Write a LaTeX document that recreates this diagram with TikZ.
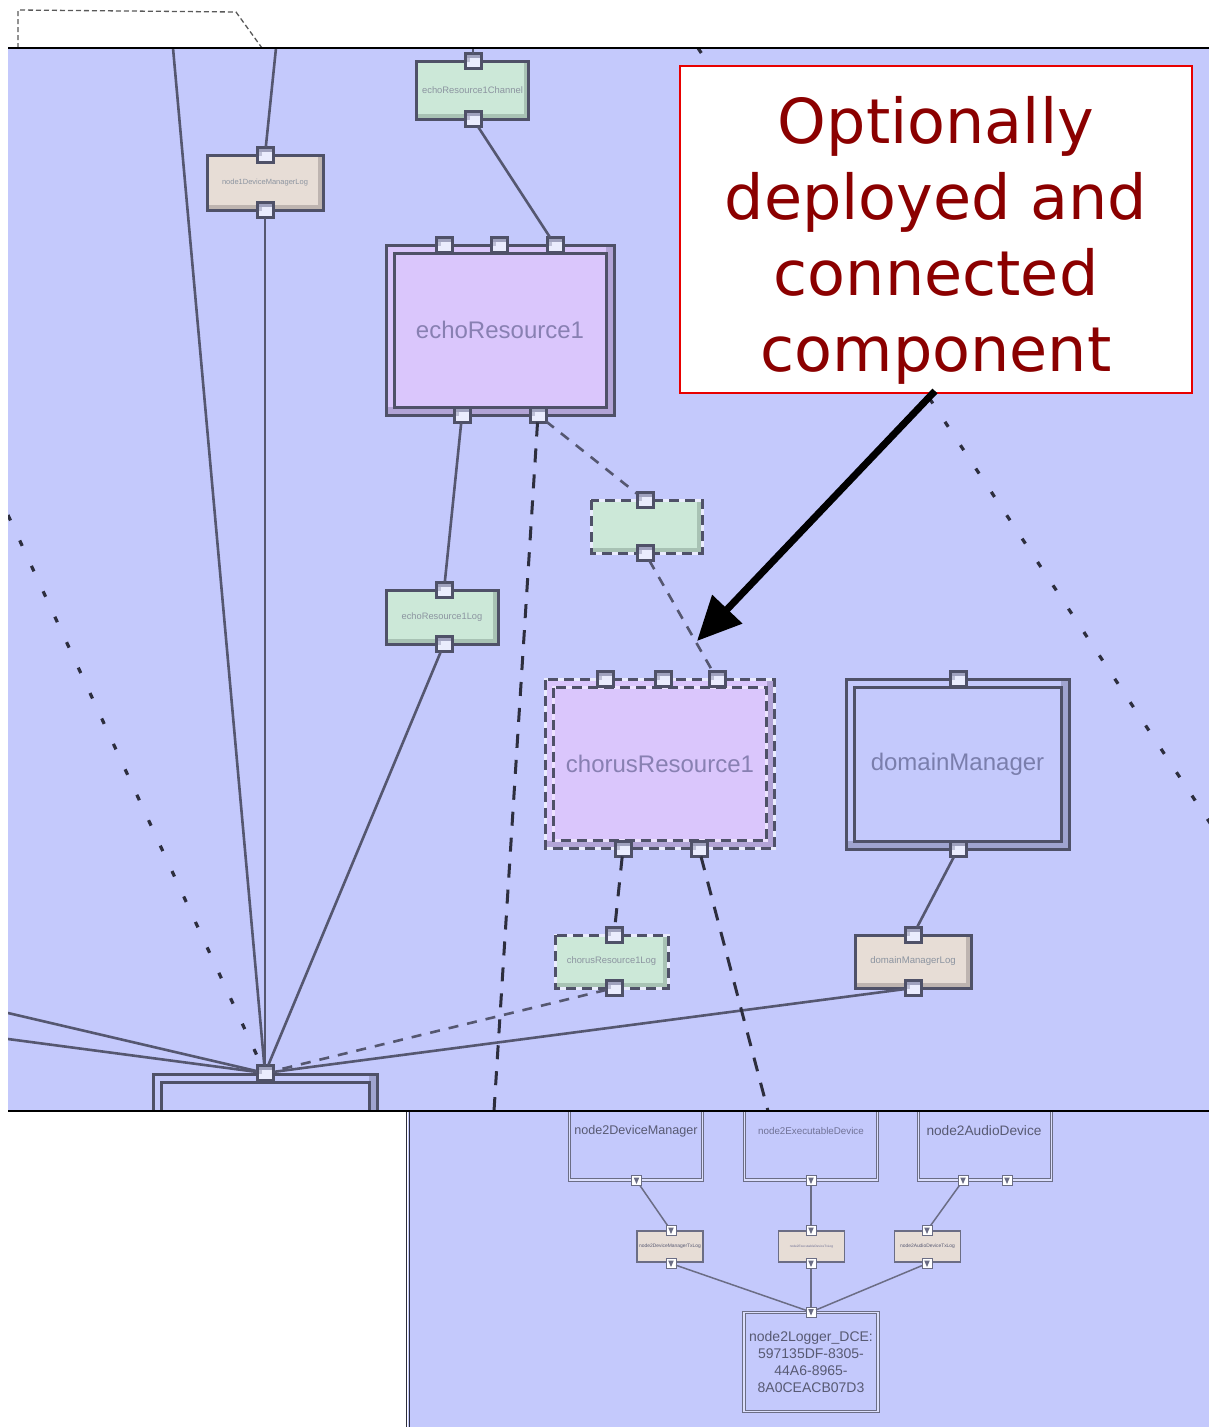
\documentclass[tikz,border=0pt]{standalone}
\usepackage{fontspec}
\setmainfont{Liberation Sans}
\newfontfamily\callfont{DejaVu Sans}
\usetikzlibrary{arrows.meta}

\definecolor{bgblue}{RGB}{196,201,252}
\definecolor{bd}{RGB}{79,81,104}
\definecolor{lav}{RGB}{218,198,252}
\definecolor{lavS}{RGB}{178,164,214}
\definecolor{grn}{RGB}{204,232,216}
\definecolor{grnS}{RGB}{168,194,180}
\definecolor{bge}{RGB}{231,221,214}
\definecolor{bgeS}{RGB}{190,180,176}
\definecolor{blS}{RGB}{160,164,208}
\definecolor{portF}{RGB}{234,236,253}
\definecolor{portS}{RGB}{160,162,190}
\definecolor{cmptxt}{RGB}{136,128,178}
\definecolor{dmtxt}{RGB}{122,126,172}
\definecolor{smalltxt}{RGB}{140,148,160}
\definecolor{cline}{RGB}{85,87,112}
\definecolor{dline}{RGB}{45,46,62}
\definecolor{lowbd}{RGB}{107,109,133}
\definecolor{lowtxt}{RGB}{88,90,115}
\definecolor{lowtxtl}{RGB}{112,114,150}
\definecolor{calred}{RGB}{232,0,0}
\definecolor{caltxt}{RGB}{139,0,0}

\tikzset{
  every node/.style={inner sep=0pt, outer sep=0pt},
  sbox/.style 2 args={rectangle, draw=bd, line width=3pt, fill=#1,
     path picture={
       \fill[#2] ([yshift=5pt]path picture bounding box.south west) rectangle (path picture bounding box.south east);
       \fill[#2] ([xshift=-5pt]path picture bounding box.south east) rectangle (path picture bounding box.north east);}},
  dbox/.style n args={3}{rectangle, draw=bd, line width=3pt, fill=#1,
     path picture={
       \fill[#2] ([yshift=8pt]path picture bounding box.south west) rectangle (path picture bounding box.south east);
       \fill[#2] ([xshift=-8pt]path picture bounding box.south east) rectangle (path picture bounding box.north east);
       \filldraw[fill=#1, draw=bd, line width=3pt, #3] ([xshift=8pt,yshift=-8pt]path picture bounding box.north west) rectangle ([xshift=-8pt,yshift=8pt]path picture bounding box.south east);}},
  dashover/.style={draw=bd, line width=3pt, dash pattern=on 10pt off 6pt},
  port/.style={rectangle, draw=bd, line width=3pt, fill=portF, minimum width=16pt, minimum height=15pt,
     path picture={
       \fill[portS] (path picture bounding box.north west) rectangle ([yshift=-4pt]path picture bounding box.north east);
       \fill[portS!60!portF] ([yshift=-4pt]path picture bounding box.north west) rectangle ([xshift=5pt,yshift=-8pt]path picture bounding box.north west);}},
  cmpfont/.style={font=\fontsize{24}{28}\selectfont, text=cmptxt},
  tiny/.style={font=\fontsize{#1}{#1}\selectfont, text=smalltxt},
  cl/.style={draw=cline, line width=2.6pt},
  dl/.style={draw=dline, line width=3pt, dash pattern=on 14pt off 12pt},
  ml/.style={draw=cline, line width=2.6pt, dash pattern=on 10pt off 9pt},
  dt/.style={draw=dline, line width=3.2pt, dash pattern=on 6pt off 22pt},
  lbox/.style={rectangle, draw=lowbd, line width=1.2pt, double=bgblue!60!white, double distance=1.5pt, fill=bgblue},
  lport/.style={rectangle, draw=lowbd, line width=1pt, fill=white, minimum size=10pt,
     path picture={\fill[lowbd] ([xshift=2.2pt,yshift=-2pt]path picture bounding box.north west) -- ([xshift=-2.2pt,yshift=-2pt]path picture bounding box.north east) -- ([yshift=1.5pt]path picture bounding box.south) -- cycle;}},
  llog/.style={rectangle, draw=lowbd, line width=1.5pt, fill=bge, minimum width=66pt, minimum height=31pt},
  lline/.style={draw=lowbd, line width=1.5pt},
  callbox/.style={rectangle, draw=calred, line width=2pt, fill=white, minimum width=512pt, minimum height=327pt},
  calltext/.style={font=\callfont\fontsize{62}{70}\selectfont, text=caltxt, anchor=base},
}

\begin{document}
\begin{tikzpicture}[x=1pt,y=-1pt]
\useasboundingbox (0,0) rectangle (1209,1427);
\fill[white] (0,0) rectangle (1209,1427);

% dashed outline above the first panel
\draw[gray!70!black, line width=1.3pt, dash pattern=on 5pt off 3pt] (18,48) -- (18,10) -- (236,12) -- (262,48);

% ================= upper panel =================
\fill[bgblue] (8,48) rectangle (1209,1111);
\begin{scope}
\clip (8,48) rectangle (1209,1111);

% boxes
\node[sbox={grn}{grnS}, minimum width=112pt, minimum height=58pt, tiny=9.4] (tg) at (472.5,90) {echoResource1Channel};
\node[sbox={bge}{bgeS}, minimum width=116pt, minimum height=55pt, tiny=7.5] (b1) at (265,182.5) {node1DeviceManagerLog};
\node[dbox={lav}{lavS}{}, minimum width=228pt, minimum height=170pt, cmpfont] (echo) at (500,330) {echoResource1};
\node[sbox={grn}{grnS}, minimum width=112pt, minimum height=54pt, tiny=9.3] (g2) at (442,617) {echoResource1Log};
\node[sbox={grn}{grnS}, draw=portF, minimum width=111pt, minimum height=53pt] (g3) at (646.5,526.5) {};
\draw[dashover] (g3.north west) rectangle (g3.south east);
\node[dbox={lav}{lavS}{draw=lav!50!white}, draw=portF, minimum width=229pt, minimum height=169pt, cmpfont] (chorus) at (660,764) {chorusResource1};
\draw[dashover] (chorus.north west) rectangle (chorus.south east);
\draw[dashover] ([shift={(8pt,-8pt)}]chorus.north west) rectangle ([shift={(-8pt,8pt)}]chorus.south east);
\node[dbox={bgblue}{blS}{}, minimum width=223pt, minimum height=170pt, font=\fontsize{24}{28}\selectfont, text=dmtxt] (dm) at (957.5,764) {domainManager};
\node[sbox={grn}{grnS}, draw=portF, minimum width=113pt, minimum height=53pt, tiny=9.4] (g4) at (611.5,961.5) {chorusResource1Log};
\draw[dashover] (g4.north west) rectangle (g4.south east);
\node[sbox={bge}{bgeS}, minimum width=116pt, minimum height=53pt, tiny=9.6] (b5) at (913,961.5) {domainManagerLog};
\node[dbox={bgblue}{blS}{}, minimum width=224pt, minimum height=200pt] (big) at (265,1174) {};

% ports
\node[port] (tg_t) at (473,61) {};
\node[port] (tg_b) at (473,119) {};
\node[port] (b1_t) at (265,155) {};
\node[port] (b1_b) at (265,210) {};
\node[port] (e_t1) at (444,245) {};
\node[port] (e_t2) at (499,245) {};
\node[port] (e_t3) at (555,245) {};
\node[port] (e_b1) at (462,415) {};
\node[port] (e_b2) at (538,415) {};
\node[port] (g2_t) at (444,590) {};
\node[port] (g2_b) at (444,644) {};
\node[port] (g3_t) at (645,500) {};
\node[port] (g3_b) at (645,553) {};
\node[port] (c_t1) at (605,679) {};
\node[port] (c_t2) at (663,679) {};
\node[port] (c_t3) at (717,679) {};
\node[port] (c_b1) at (623,849) {};
\node[port] (c_b2) at (699,849) {};
\node[port] (d_t) at (958,679) {};
\node[port] (d_b) at (958,849) {};
\node[port] (g4_t) at (614,935) {};
\node[port] (g4_b) at (614,988) {};
\node[port] (b5_t) at (913,935) {};
\node[port] (b5_b) at (913,988) {};
\node[port] (bigp) at (265,1073) {};

% free ends
\coordinate (top1) at (173,48);
\coordinate (top2) at (276,48);
\coordinate (top3) at (473,48);
\coordinate (topdot) at (698,48);
\coordinate (rdot) at (1212,826);
\coordinate (ldot) at (8,515);
\coordinate (lsol1) at (8,1013);
\coordinate (lsol2) at (8,1039);
\coordinate (down1) at (494,1111);
\coordinate (down2) at (768,1111);

% connectors
\draw[cl] (top1) -- (bigp);
\draw[cl] (top2) -- (b1_t);
\draw[cl] (b1_b) -- (bigp);
\draw[cl] (top3) -- (tg_t);
\draw[cl] (tg_b) -- (e_t3);
\draw[cl] (e_b1) -- (g2_t);
\draw[cl] (g2_b) -- (bigp);
\draw[cl] (d_b) -- (b5_t);
\draw[cl] (b5_b) -- (bigp);
\draw[cl] (lsol1) -- (bigp);
\draw[cl] (lsol2) -- (bigp);
\draw[dl] (e_b2) -- (down1);
\draw[ml] (e_b2) -- (g3_t);
\draw[ml] (g3_b) -- (c_t3);
\draw[dl] (c_b1) -- (g4_t);
\draw[dl] (c_b2) -- (down2);
\draw[ml] (g4_b) -- (bigp);
\draw[dt] (ldot) -- (bigp);
\draw[dt] (topdot) -- (rdot);
\end{scope}
\draw[black, line width=2pt] (8,48) -- (1209,48);

% ================= lower panel =================
\fill[bgblue] (408,1111) rectangle (1209,1427);
\begin{scope}
\clip (408,1111) rectangle (1209,1427);
\node[lbox, minimum width=133pt, minimum height=82pt] (dm2) at (636,1139) {};
\node[lbox, minimum width=133pt, minimum height=82pt] (ex2) at (811,1139) {};
\node[lbox, minimum width=133pt, minimum height=82pt] (ad2) at (985,1139) {};
\node[font=\fontsize{12.6}{15}\selectfont, text=lowtxt] (t_dm2) at (636,1131) {node2DeviceManager};
\node[font=\fontsize{9.8}{12}\selectfont, text=lowtxtl] (t_ex2) at (811,1131) {node2ExecutableDevice};
\node[font=\fontsize{13.7}{16}\selectfont, text=lowtxt] (t_ad2) at (984,1131) {node2AudioDevice};

\node[llog, font=\fontsize{4.9}{5}\selectfont, text=lowtxt] (lg1) at (670,1246.5) {node2DeviceManagerTxLog};
\node[llog, font=\fontsize{3.2}{4}\selectfont, text=lowtxtl] (lg2) at (811.5,1246.5) {node2ExecutableDeviceTxLog};
\node[llog, font=\fontsize{4.9}{5}\selectfont, text=lowtxt] (lg3) at (927.5,1246.5) {node2AudioDeviceTxLog};

\node[lbox, minimum width=134pt, minimum height=99pt, align=center, font=\fontsize{14}{17}\selectfont, text=lowtxt] (logger) at (811,1362) {node2Logger\_DCE:\\597135DF-8305-\\44A6-8965-\\8A0CEACB07D3};

\node[lport] (p_dm2) at (636.5,1180.5) {};
\node[lport] (p_ex2) at (811,1180.5) {};
\node[lport] (p_ad2a) at (963,1180.5) {};
\node[lport] (p_ad2b) at (1007,1180.5) {};
\node[lport] (p_lg1t) at (671,1230.5) {};
\node[lport] (p_lg1b) at (671,1263.5) {};
\node[lport] (p_lg2t) at (811,1230.5) {};
\node[lport] (p_lg2b) at (811,1263.5) {};
\node[lport] (p_lg3t) at (927,1230.5) {};
\node[lport] (p_lg3b) at (927,1263.5) {};
\node[lport] (p_log) at (811,1312) {};

\draw[lline] (p_dm2) -- (p_lg1t);
\draw[lline] (p_ex2) -- (p_lg2t);
\draw[lline] (p_ad2a) -- (p_lg3t);
\draw[lline] (p_lg1b) -- (p_log);
\draw[lline] (p_lg2b) -- (p_log);
\draw[lline] (p_lg3b) -- (p_log);
\end{scope}
\draw[dline, line width=1pt] (406,1111) -- (406,1427);
\draw[dline, line width=1pt] (409.5,1111) -- (409.5,1427);
\draw[black, line width=2pt] (8,1111) -- (1209,1111);

% ================= callout =================
\node[callbox] (call) at (936,229.5) {};
\node[calltext] (cl1) at (936,143) {Optionally};
\node[calltext] (cl2) at (936,219) {deployed and};
\node[calltext] (cl3) at (936,295) {connected};
\node[calltext] (cl4) at (936,371) {component};
\coordinate (arrtip) at (697,641);
\draw[black, line width=7pt, -{Triangle[length=44pt,width=40pt]}] ([xshift=-1pt,yshift=2pt]call.south) -- (arrtip);
\end{tikzpicture}
\end{document}
